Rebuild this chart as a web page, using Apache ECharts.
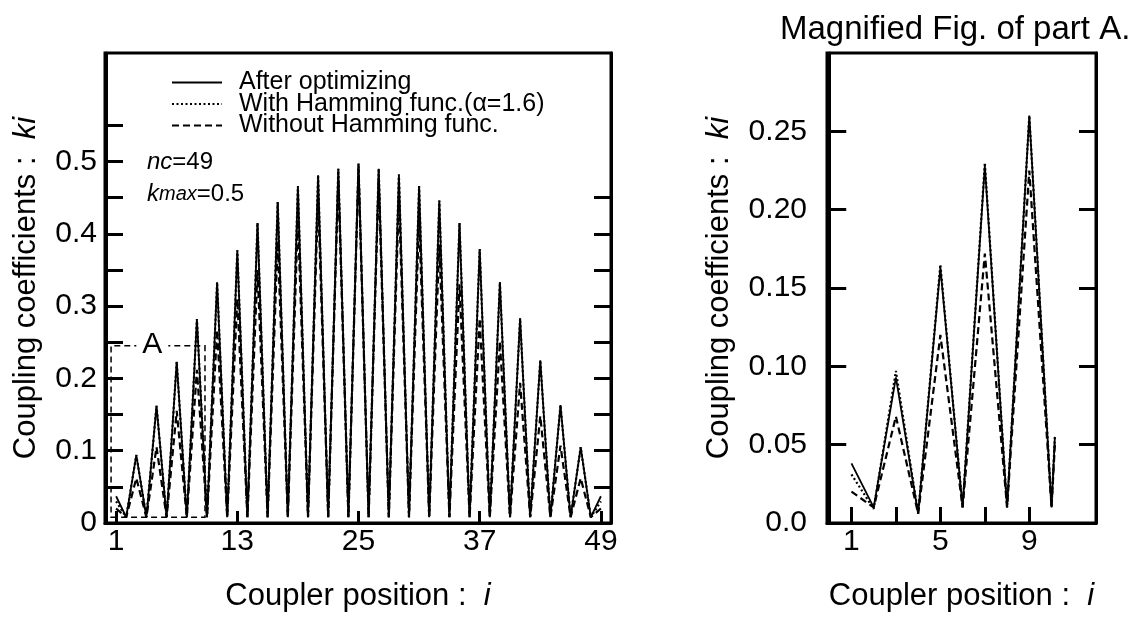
<!DOCTYPE html>
<html><head><meta charset="utf-8">
<script src="https://cdn.jsdelivr.net/npm/echarts@6/dist/echarts.min.js"></script>
<style>html,body{margin:0;padding:0;background:#fff}#c{width:1131px;height:617px}</style>
</head><body><div id="c"></div>
<script>
// ---- Main figure data (coupler position i = 1..49) ----
const positions = [1,2,3,4,5,6,7,8,9,10,11,12,13,14,15,16,17,18,19,20,21,22,23,24,25,26,27,28,29,30,31,32,33,34,35,36,37,38,39,40,41,42,43,44,45,46,47,48,49];
const afterOptimizing = [0.037,0.008,0.094,0.008,0.162,0.008,0.223,0.008,0.282,0.008,0.333,0.008,0.377,0.008,0.415,0.008,0.444,0.008,0.466,0.008,0.481,0.008,0.490,0.008,0.497,0.008,0.490,0.008,0.482,0.008,0.466,0.008,0.446,0.008,0.415,0.008,0.379,0.008,0.333,0.008,0.283,0.008,0.225,0.008,0.163,0.008,0.105,0.008,0.037];
const withHamming = [0.030,0.008,0.094,0.008,0.162,0.008,0.223,0.008,0.282,0.008,0.333,0.008,0.377,0.008,0.415,0.008,0.444,0.008,0.466,0.008,0.481,0.008,0.490,0.008,0.497,0.008,0.490,0.008,0.482,0.008,0.466,0.008,0.446,0.008,0.415,0.008,0.379,0.008,0.333,0.008,0.283,0.008,0.225,0.008,0.163,0.008,0.105,0.008,0.030];
const withoutHamming = [0.020,0.008,0.062,0.008,0.105,0.008,0.155,0.008,0.212,0.008,0.267,0.008,0.310,0.008,0.350,0.008,0.390,0.008,0.420,0.008,0.450,0.008,0.475,0.008,0.490,0.008,0.475,0.008,0.450,0.008,0.420,0.008,0.385,0.008,0.330,0.008,0.283,0.008,0.251,0.008,0.194,0.008,0.148,0.008,0.107,0.008,0.062,0.008,0.020];
const xTickLabels = [1,13,25,37,49];
const yTickLabels = [0,0.1,0.2,0.3,0.4,0.5];
const regionAX = [0.5, 9.8];
const regionAY = [0.008, 0.245];

// ---- Magnified figure data (part A) ----
const magPositions = [1,2,3,4,5,6,7,8,9,10,10.15];
const magAfter   = [0.038,0.010,0.093,0.006,0.163,0.010,0.228,0.010,0.260,0.010,0.055];
const magHamming = [0.031,0.009,0.097,0.006,0.165,0.010,0.230,0.010,0.260,0.010,0.055];
const magWithout = [0.020,0.010,0.068,0.006,0.120,0.010,0.172,0.010,0.225,0.010,0.050];
const magXTickLabels = [1,5,9];
const magXTicks = [1,3,5,7,9];
const magYTickLabels = [0,0.05,0.10,0.15,0.20,0.25];

const names = ['After optimizing','With Hamming func.(\u03B1=1.6)','Without Hamming func.'];
const FONT = 'Liberation Sans, Arial, Helvetica, sans-serif';
const pair = (xs, ys) => xs.map((x, k) => [x, ys[k]]);

const chart = echarts.init(document.getElementById('c'), null, {renderer:'canvas'});

const tickStyle = {show:true, inside:true, length:17, lineStyle:{color:'#000', width:3}};
const axisLineStyle = {show:true, lineStyle:{color:'#000', width:3}};
const lbl = {color:'#000', fontFamily:FONT, fontSize:30};

function lineSeries(name, data, type, xi, yi, extra) {
  return Object.assign({
    name, type:'line', xAxisIndex:xi, yAxisIndex:yi, data,
    symbol:'none', showSymbol:false, smooth:false, animation:false,
    lineStyle:{color:'#000', width: type==='solid'?1.8:2.2, type: type==='dashed'?[7,4]:(type==='dotted'?[2,2.5]:'solid')},
    itemStyle:{color:'#000'}
  }, extra || {});
}

const option = {
  backgroundColor:'#fff',
  animation:false,
  title:[
    {text:'Magnified Fig. of part A.', left:775, top:8, textStyle:{fontFamily:FONT, fontSize:33, fontWeight:'normal', color:'#000'}},
    {text:'{i|nc}=49', left:142, top:145, textStyle:{fontFamily:FONT, fontSize:24, fontWeight:'normal', color:'#000', rich:{i:{fontStyle:'italic', fontFamily:FONT, fontSize:24}}}},
    {text:'{i|k}{s|max}=0.5', left:142, top:177, textStyle:{fontFamily:FONT, fontSize:24, fontWeight:'normal', color:'#000', rich:{i:{fontStyle:'italic', fontFamily:FONT, fontSize:24}, s:{fontStyle:'italic', fontFamily:FONT, fontSize:20}}}}
  ],
  legend:{
    data:names, orient:'vertical', left:166, top:65, itemWidth:50, itemHeight:12, itemGap:-3.5,
    itemStyle:{color:'rgba(0,0,0,0)', borderWidth:0, opacity:0},
    textStyle:{fontFamily:FONT, fontSize:25, color:'#000', padding:[0,0,0,12]},
    selectedMode:false
  },
  grid:[
    {left:105, right:520, top:53, bottom:92, show:true, borderColor:'#000', borderWidth:3, containLabel:false},
    {left:827, right:35, top:53, bottom:92, show:true, borderColor:'#000', borderWidth:3, containLabel:false}
  ],
  xAxis:[
    {type:'value', gridIndex:0, min:-0.1, max:50, axisLine:axisLineStyle,
     axisTick:Object.assign({}, tickStyle, {length:12, customValues:xTickLabels}),
     axisLabel:Object.assign({}, lbl, {margin:4, customValues:xTickLabels}), splitLine:{show:false},
     name:'Coupler position :  {i|i}', nameLocation:'middle', nameGap:58,
     nameTextStyle:{fontFamily:FONT, fontSize:31, color:'#000', rich:{i:{fontStyle:'italic', fontFamily:FONT, fontSize:31}}}},
    {type:'value', gridIndex:1, min:-0.1, max:12, axisLine:axisLineStyle,
     axisTick:Object.assign({}, tickStyle, {length:16, customValues:magXTicks}),
     axisLabel:Object.assign({}, lbl, {margin:4, customValues:magXTickLabels}), splitLine:{show:false},
     name:'Coupler position :  {i|i}', nameLocation:'middle', nameGap:58,
     nameTextStyle:{fontFamily:FONT, fontSize:31, color:'#000', rich:{i:{fontStyle:'italic', fontFamily:FONT, fontSize:31}}}}
  ],
  yAxis:[
    {type:'value', gridIndex:0, min:0, max:0.65, axisLine:axisLineStyle,
     axisTick:Object.assign({}, tickStyle, {customValues:[0.05,0.1,0.15,0.2,0.25,0.3,0.35,0.4,0.45,0.5,0.55]}),
     axisLabel:Object.assign({}, lbl, {margin:8, customValues:yTickLabels, formatter:v => v===0?'0':v.toFixed(1)}),
     splitLine:{show:false},
     name:'Coupling coefficients :  {i|ki}', nameLocation:'middle', nameGap:63, nameRotate:90,
     nameTextStyle:{fontFamily:FONT, fontSize:31, color:'#000', rich:{i:{fontStyle:'italic', fontFamily:FONT, fontSize:31}}}},
    {type:'value', gridIndex:0, position:'right', min:0, max:0.65, axisLine:axisLineStyle,
     axisTick:Object.assign({}, tickStyle, {customValues:[0.05,0.1,0.15,0.2,0.25,0.3,0.35,0.4,0.45]}),
     axisLabel:{show:false}, splitLine:{show:false}},
    {type:'value', gridIndex:1, min:0, max:0.30, axisLine:axisLineStyle,
     axisTick:Object.assign({}, tickStyle, {customValues:[0.05,0.1,0.15,0.2,0.25]}),
     axisLabel:Object.assign({}, lbl, {margin:20, customValues:magYTickLabels, formatter:v => v===0?'0.0':v.toFixed(2)}),
     splitLine:{show:false},
     name:'Coupling coefficients :  {i|ki}', nameLocation:'middle', nameGap:92, nameRotate:90,
     nameTextStyle:{fontFamily:FONT, fontSize:31, color:'#000', rich:{i:{fontStyle:'italic', fontFamily:FONT, fontSize:31}}}},
    {type:'value', gridIndex:1, position:'right', min:0, max:0.30, axisLine:axisLineStyle,
     axisTick:Object.assign({}, tickStyle, {customValues:[0.05,0.1,0.15,0.2,0.25]}),
     axisLabel:{show:false}, splitLine:{show:false}}
  ],
  series:[
    lineSeries(names[2], pair(positions, withoutHamming), 'dashed', 0, 0),
    lineSeries(names[1], pair(positions, withHamming), 'dotted', 0, 0),
    lineSeries(names[0], pair(positions, afterOptimizing), 'solid', 0, 0, {
      markArea:{
        silent:true,
        itemStyle:{color:'rgba(0,0,0,0)', borderColor:'#000', borderWidth:1.5, borderType:[6,4]},
        label:{show:true, position:['44%',0], align:'center', verticalAlign:'middle',
               fontFamily:FONT, fontSize:30, color:'#000', backgroundColor:'#fff', padding:[0,6]},
        data:[[{name:'A', coord:[regionAX[0], regionAY[0]]},{coord:[regionAX[1], regionAY[1]]}]]
      }
    }),
    lineSeries(names[2], pair(magPositions, magWithout), 'dashed', 1, 2),
    lineSeries(names[1], pair(magPositions, magHamming), 'dotted', 1, 2),
    lineSeries(names[0], pair(magPositions, magAfter), 'solid', 1, 2)
  ]
};
chart.setOption(option);
</script>
</body></html>
